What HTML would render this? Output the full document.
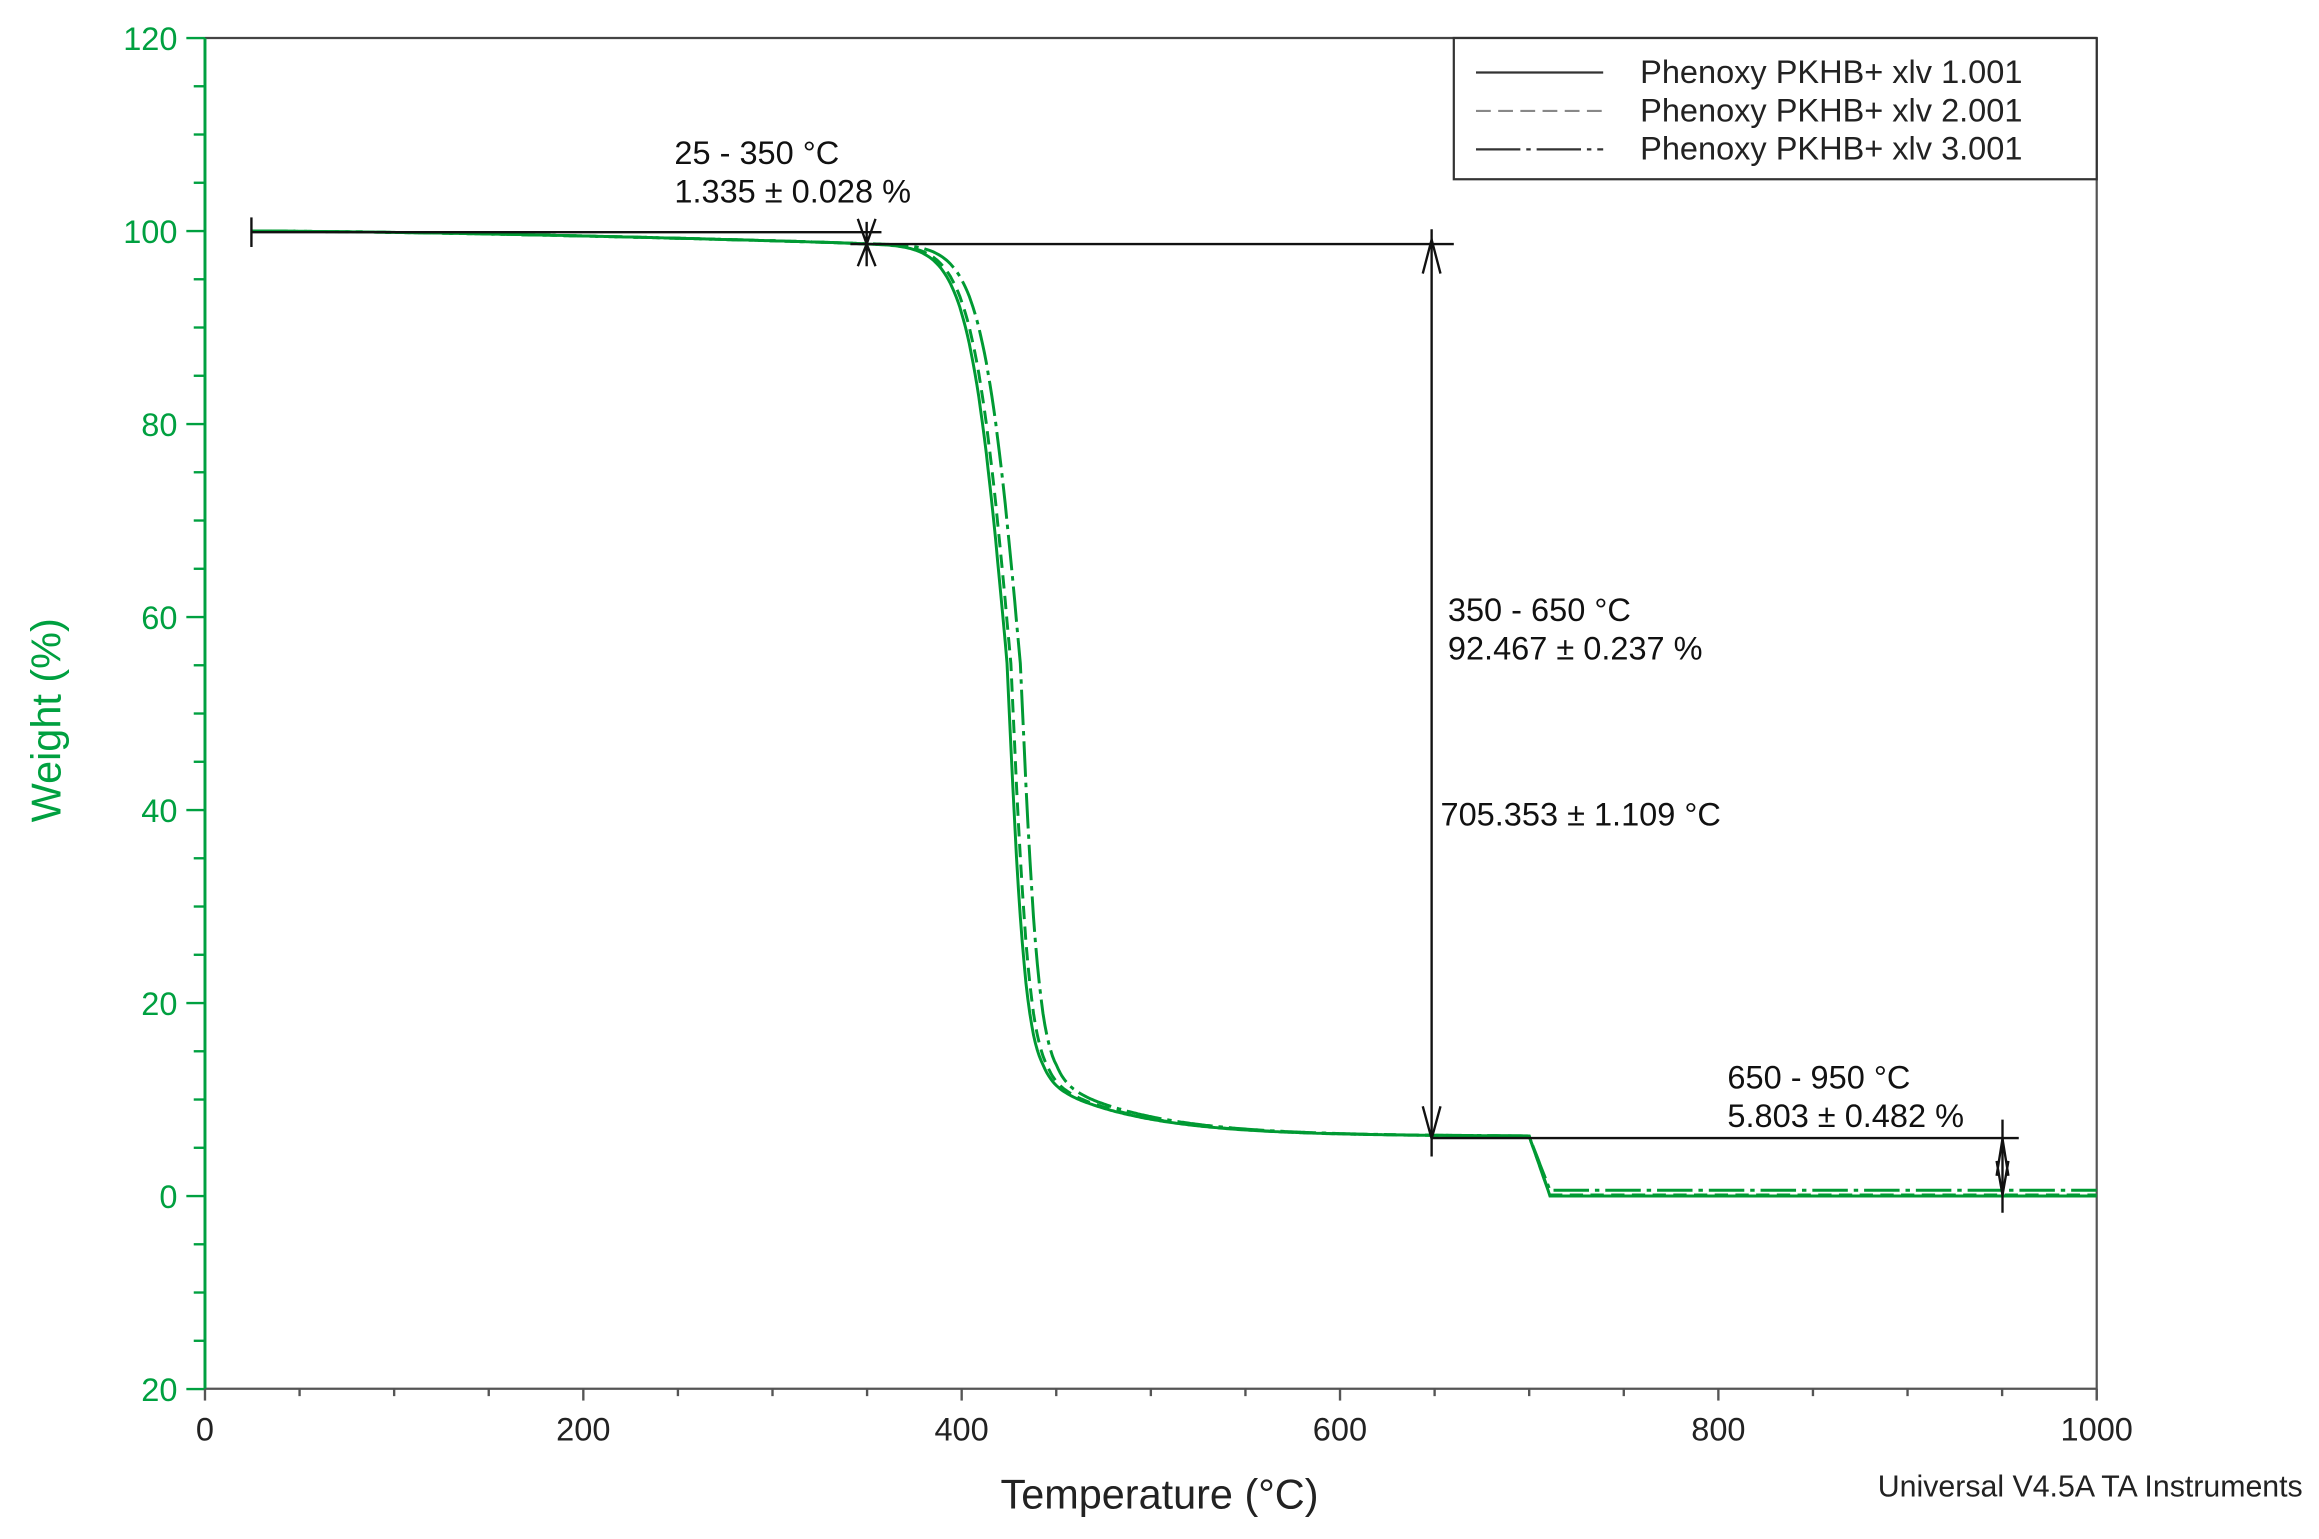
<!DOCTYPE html>
<html><head><meta charset="utf-8"><style>
html,body{margin:0;padding:0;background:#fff;}
svg{display:block;}
text{font-family:"Liberation Sans",Arial,sans-serif;}
</style></head><body>
<svg id="s" width="2319" height="1539" viewBox="0 0 1568 1040.6" xmlns="http://www.w3.org/2000/svg">
<rect width="1568" height="1041" fill="#fff"/>
<line x1="138.6" y1="25.7" x2="1417.7" y2="25.7" stroke="#444" stroke-width="1.5"/>
<line x1="1417.7" y1="25.7" x2="1417.7" y2="946" stroke="#555" stroke-width="1.5"/>
<line x1="138.6" y1="939" x2="1417.7" y2="939" stroke="#555" stroke-width="1.5"/>
<line x1="138.6" y1="25.7" x2="138.6" y2="939" stroke="#00a040" stroke-width="2"/>
<g id="ticks"></g>
<g fill="#00a040" font-size="22" text-anchor="end">
<text x="120" y="33.7">120</text><text x="120" y="164.2">100</text><text x="120" y="294.7">80</text>
<text x="120" y="425.2">60</text><text x="120" y="555.7">40</text><text x="120" y="686.2">20</text>
<text x="120" y="816.7">0</text><text x="120" y="947.2">20</text>
</g>
<text transform="translate(41,487) rotate(-90)" fill="#00a040" font-size="28" text-anchor="middle">Weight (%)</text>
<g fill="#222" font-size="22" text-anchor="middle">
<text x="138.6" y="974">0</text><text x="394.4" y="974">200</text><text x="650.2" y="974">400</text>
<text x="906" y="974">600</text><text x="1161.9" y="974">800</text><text x="1417.7" y="974">1000</text>
</g>
<text x="784" y="1020" font-size="28" fill="#222" text-anchor="middle">Temperature (°C)</text>
<text x="1557" y="1012" font-size="20.5" fill="#222" text-anchor="end">Universal V4.5A TA Instruments</text>
<g id="curves" fill="none" stroke="#009a33" stroke-width="2"></g>
<g stroke="#111" stroke-width="1.6" fill="none">
<line x1="170" y1="147" x2="170" y2="167"/>
<line x1="170" y1="157" x2="596" y2="157"/>
<line x1="575" y1="165" x2="983" y2="165"/>
<path d="M580,148 L586,165 L592,148 M580,180 L586,165 L592,180 M586,150 L586,180"/>
<line x1="968" y1="155" x2="968" y2="782"/>
<path d="M962,185 L968,162 L974,185 M962,748 L968,770 L974,748"/>
<line x1="968" y1="769.5" x2="1365" y2="769.5"/>
<line x1="1354" y1="757" x2="1354" y2="820"/>
<path d="M1350,795 L1354,770 L1358,795 M1350,785 L1354,808 L1358,785"/>
</g>
<g fill="#111" font-size="22">
<text x="456" y="111">25 - 350 °C</text>
<text x="456" y="137">1.335 ± 0.028 %</text>
<text x="979" y="420">350 - 650 °C</text>
<text x="979" y="446">92.467 ± 0.237 %</text>
<text x="974" y="558">705.353 ± 1.109 °C</text>
<text x="1168" y="736">650 - 950 °C</text>
<text x="1168" y="762">5.803 ± 0.482 %</text>
</g>
<rect x="983" y="25.7" width="434.7" height="95.5" fill="#fff" stroke="#333" stroke-width="1.5"/>
<g stroke="#333" stroke-width="1.5">
<line x1="998" y1="49" x2="1084" y2="49"/>
<line x1="998" y1="75" x2="1084" y2="75" stroke-dasharray="10,5" stroke="#888"/>
<line x1="998" y1="101" x2="1084" y2="101" stroke-dasharray="30,4,3,4"/>
</g>
<g fill="#222" font-size="22">
<text x="1109" y="56">Phenoxy PKHB+ xlv 1.001</text>
<text x="1109" y="82">Phenoxy PKHB+ xlv 2.001</text>
<text x="1109" y="108">Phenoxy PKHB+ xlv 3.001</text>
</g>
</svg>
<script>
var NS="http://www.w3.org/2000/svg";
function X(t){return 138.6+t*1.2791;}
function Y(w){return 25.7+(120-w)*6.525;}
var tk=document.getElementById("ticks");
function ln(x1,y1,x2,y2,c){var l=document.createElementNS(NS,"line");l.setAttribute("x1",x1);l.setAttribute("y1",y1);l.setAttribute("x2",x2);l.setAttribute("y2",y2);l.setAttribute("stroke",c);l.setAttribute("stroke-width",1.6);tk.appendChild(l);}
for(var w=-20;w<=120;w+=5){var maj=(w%20==0);ln(maj?126:131,Y(w),138.6,Y(w),"#00a040");}
for(var t=0;t<=1000;t+=50){var maj=(t%200==0);ln(X(t),939,X(t),maj?947:944,"#555");}
function curve(sh,end){
 var p=[];
 for(var t=25;t<=1000;t+=1){
  var w;
  if(t<700){
   var pre=100-1.3*Math.pow((t-25)/325,1.5);if(t>350)pre=98.7;
   var r=6.2+5.5*Math.exp(-Math.max(0,t-443-sh)/50);
   var tc=424+sh,k=(t<tc)?10:5;
   var f=1/(1+Math.exp((t-tc)/k));
   w=r+(pre-r)*f;
  } else if(t<711){w=6.2-(6.2-end)*(t-700)/11;}
  else w=end;
  p.push((p.length?"L":"M")+X(t).toFixed(1)+","+Y(w).toFixed(1));
 }
 return p.join("");
}
var g=document.getElementById("curves");
[[0,0,""],[2,0.1,"9,5"],[7,0.6,"24,4,3,4"]].forEach(function(c){
 var e=document.createElementNS(NS,"path");e.setAttribute("d",curve(c[0],c[1]));
 if(c[2])e.setAttribute("stroke-dasharray",c[2]);g.appendChild(e);
});
</script>
</body></html>
